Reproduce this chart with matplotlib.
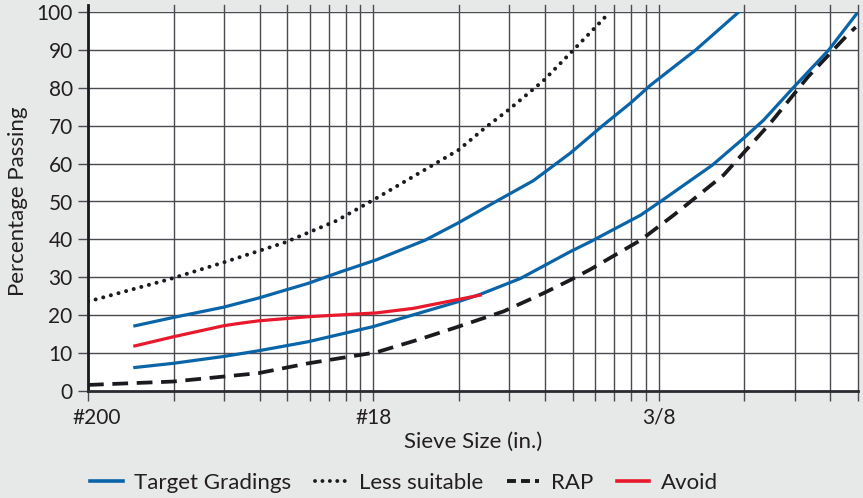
import matplotlib
matplotlib.use("Agg")
import matplotlib.pyplot as plt
import matplotlib.transforms as mtransforms
from matplotlib.lines import Line2D
from matplotlib.ticker import FixedLocator, NullFormatter, LogLocator

# sieve opening in mm (log axis), percentage passing
upper_x = [0.146, 0.199, 0.298, 0.395, 0.591, 0.772, 1.024, 1.52, 1.99, 2.72,
           3.64, 4.91, 6.41, 7.98, 9.37, 11.95, 13.5, 19.1]
upper_y = [17.2, 19.4, 22.1, 24.5, 28.4, 31.5, 34.6, 39.8, 44.4, 50.2,
           55.5, 62.8, 70.2, 76.0, 80.7, 86.9, 90.0, 100.0]

lower_x = [0.146, 0.199, 0.298, 0.395, 0.591, 1.0, 1.99, 2.37, 3.28, 4.91,
           5.77, 8.65, 10.16, 15.43, 19.87, 23.36, 29.8, 39.5, 50.0]
lower_y = [6.2, 7.3, 9.1, 10.6, 13.0, 17.0, 23.6, 25.5, 29.7, 36.8,
           39.4, 46.4, 50.0, 59.6, 66.7, 71.5, 80.2, 90.0, 100.0]

rap_x = [0.1, 0.199, 0.298, 0.395, 0.591, 1.024, 1.46, 1.99, 2.86, 3.95,
         4.91, 5.77, 8.65, 11.29, 16.91, 24.72, 33.4, 46.0, 49.1]
rap_y = [1.6, 2.5, 3.8, 4.7, 7.3, 10.2, 13.7, 17.0, 21.0, 25.8,
         29.3, 32.1, 39.8, 46.4, 57.0, 70.8, 82.9, 94.0, 96.0]

less_x = [0.1, 0.193, 0.298, 0.49, 0.742, 1.0, 1.99, 2.47, 2.97, 3.95, 4.87, 6.01, 6.75]
less_y = [23.6, 29.5, 33.9, 39.2, 44.9, 50.4, 63.6, 69.5, 74.1, 81.9, 88.9, 96.0, 100.0]

avoid_x = [0.146, 0.199, 0.298, 0.336, 0.395, 0.591, 1.024, 1.38, 2.37]
avoid_y = [11.9, 14.3, 17.2, 17.8, 18.5, 19.6, 20.6, 21.8, 25.3]

tick_pos = [0.1, 1.0, 10.0]
tick_labels = ["#200", "#18", "3/8"]

BG = "#e7e8e8"
BLUE = "#0a64a8"
RED = "#e8192c"
INK = "#1b1b1f"
GRID = "#4a4a50"
TXT = "#231f20"

plt.rcParams["font.family"] = ["Lato", "DejaVu Sans"]

fig = plt.figure(figsize=(8.63, 4.98), dpi=100, facecolor=BG)
W, H = 863, 498
ax = fig.add_axes([88 / W, 1 - 391 / H, (858 - 88) / W, (391 - 12) / H])
ax.set_facecolor("white")

ax.set_xscale("log")
ax.set_xlim(0.1, 50)
ax.set_ylim(0, 100)

# grid: vertical lines poke a little above the top of the plot
minor = LogLocator(base=10, subs=range(1, 10)).tick_values(0.1, 50)
minor = [v for v in minor if 0.1 <= v <= 50.001]
for v in minor:
    ax.axvline(v, ymin=0, ymax=1.018, color=GRID, lw=1.0, clip_on=False, zorder=1)
for v in range(10, 101, 10):
    ax.axhline(v, color=GRID, lw=1.0, zorder=1)

ax.plot(less_x, less_y, color=INK, lw=2.9, linestyle=(0, (0.01, 1.95)),
        dash_capstyle="round", zorder=3)
ax.plot(rap_x, rap_y, color=INK, lw=2.7, linestyle=(0, (4.2, 2.3)), zorder=3)
ax.plot(upper_x, upper_y, color=BLUE, lw=2.3, zorder=4, solid_joinstyle="round")
ax.plot(lower_x, lower_y, color=BLUE, lw=2.3, zorder=4, solid_joinstyle="round")
ax.plot(avoid_x, avoid_y, color=RED, lw=2.3, zorder=5, solid_joinstyle="round")

ax.xaxis.set_major_locator(FixedLocator(tick_pos))
ax.set_xticklabels(tick_labels)
ax.xaxis.set_minor_locator(FixedLocator(minor))
ax.xaxis.set_minor_formatter(NullFormatter())
ax.set_yticks(range(0, 101, 10))

ax.tick_params(axis="both", which="both", length=7, width=1.0, color=GRID,
               labelsize=15, labelcolor=TXT, pad=4)
ax.tick_params(axis="x", which="major", pad=5)

# first x label sits a little right of its tick
shift = mtransforms.ScaledTranslation(9 / 100, 0, fig.dpi_scale_trans)
first = ax.get_xticklabels()[0]
first.set_transform(first.get_transform() + shift)

for s in ["top", "right"]:
    ax.spines[s].set_visible(False)
ax.spines["left"].set_color(INK)
ax.spines["left"].set_linewidth(2.0)
ax.spines["left"].set_bounds(0, 101.8)
ax.spines["bottom"].set_color("#2a2a30")
ax.spines["bottom"].set_linewidth(2.0)

ax.set_xlabel("Sieve Size (in.)", fontsize=16, color=TXT, labelpad=3)
ax.set_ylabel("Percentage Passing", fontsize=16, color=TXT, labelpad=6)

handles = [
    Line2D([], [], color=BLUE, lw=2.6),
    Line2D([], [], color=INK, lw=2.8, linestyle=(0, (0.01, 1.9)), dash_capstyle="round"),
    Line2D([], [], color=INK, lw=2.8, linestyle=(0, (2.3, 1.3))),
    Line2D([], [], color=RED, lw=2.6),
]
labels = ["Target Gradings", "Less suitable", "RAP", "Avoid"]
fig.legend(handles, labels, loc="center", bbox_to_anchor=(404 / W, 1 - 483 / H),
           ncol=4, frameon=False, fontsize=16, handlelength=1.45, handletextpad=0.5,
           columnspacing=1.1, labelcolor=TXT, borderpad=0)

fig.savefig("out.png", dpi=100, facecolor=BG)
